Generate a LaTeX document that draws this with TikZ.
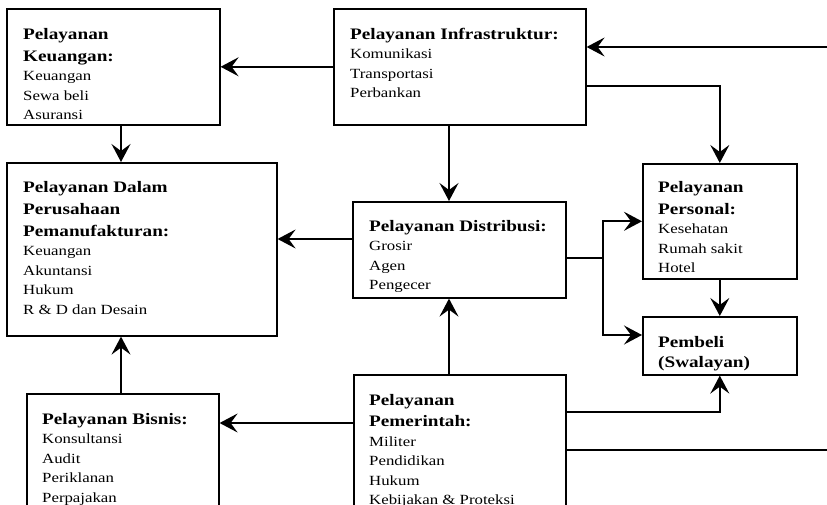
\documentclass[tikz,border=0pt]{standalone}
\usepackage{fontspec}
\setmainfont[FakeStretch=1.2]{Liberation Serif}
\usetikzlibrary{arrows.meta,calc}
\newcommand\boxhead[1]{{\fontsize{16}{19.5}\selectfont\bfseries #1}}
\tikzset{
  box/.style={draw=black, line width=1.6pt, fill=white, rectangle, anchor=north west, inner sep=0pt},
  txt/.style={anchor=north west, inner sep=0pt, align=left, font=\fontsize{14}{19.5}\selectfont},
  arr/.style={line width=1.8pt, -{Stealth[length=18pt,width=19pt,inset=7pt]}},
  ln/.style={line width=1.8pt}
}
\begin{document}
\begin{tikzpicture}[x=1pt,y=-1pt]
\useasboundingbox (0,0) rectangle (827,505);
\begin{scope}
\clip (0,0) rectangle (827,505);
\fill[white] (0,0) rectangle (827,505);

% service boxes
\node[box, minimum width=213, minimum height=116] (keu) at (6,8) {};
\node[box, minimum width=252, minimum height=116] (inf) at (333,8) {};
\node[box, minimum width=270, minimum height=173] (man) at (6,162) {};
\node[box, minimum width=213, minimum height=96]  (dis) at (352,201) {};
\node[box, minimum width=154, minimum height=115] (per) at (642,163) {};
\node[box, minimum width=154, minimum height=58]  (beli) at (642,316) {};
\node[box, minimum width=192, minimum height=140] (bis) at (26,393) {};
\node[box, minimum width=212, minimum height=160] (pem) at (353,374) {};

% box contents
\node[txt] (keut) at (23,28) {\boxhead{Pelayanan}\\[2.5pt]\boxhead{Keuangan:}\\Keuangan\\Sewa beli\\Asuransi};
\node[txt] (inft) at (350,28) {\boxhead{Pelayanan Infrastruktur:}\\Komunikasi\\Transportasi\\Perbankan};
\node[txt] (mant) at (23,181) {\boxhead{Pelayanan Dalam}\\[2.5pt]\boxhead{Perusahaan}\\[2.5pt]\boxhead{Pemanufakturan:}\\Keuangan\\Akuntansi\\Hukum\\R \& D dan Desain};
\node[txt] (dist) at (369,220) {\boxhead{Pelayanan Distribusi:}\\Grosir\\Agen\\Pengecer};
\node[txt] (pert) at (658,181) {\boxhead{Pelayanan}\\[2.5pt]\boxhead{Personal:}\\Kesehatan\\Rumah sakit\\Hotel};
\node[txt] (belit) at (658,336) {\boxhead{Pembeli}\\[1pt]\boxhead{(Swalayan)}};
\node[txt] (bist) at (42,413) {\boxhead{Pelayanan Bisnis:}\\Konsultansi\\Audit\\Periklanan\\Perpajakan};
\node[txt] (pemt) at (369,394) {\boxhead{Pelayanan}\\[2pt]\boxhead{Pemerintah:}\\Militer\\Pendidikan\\Hukum\\Kebijakan \& Proteksi};

% connector anchor points on the box edges
\coordinate (inR) at (827,47);
\coordinate (outR) at (827,450);
\coordinate (split) at (603,258);
\coordinate (infOut) at ($(inf.north east)+(0,78)$);
\coordinate (keuDown) at ($(keu.south west)+(115,0)$);
\coordinate (manTop) at ($(man.north west)+(115,0)$);
\coordinate (manBot) at ($(man.south west)+(115,0)$);
\coordinate (infDown) at ($(inf.south west)+(116,0)$);
\coordinate (disLeft) at ($(dis.north west)+(0,38)$);
\coordinate (beliLeft) at ($(beli.north west)+(0,19)$);
\coordinate (pemUp) at ($(pem.north west)+(96,0)$);
\coordinate (pemRight) at ($(pem.north east)+(0,38)$);
\coordinate (pemLeft) at ($(pem.north west)+(0,49)$);
\coordinate (bisUp) at ($(bis.north west)+(95,0)$);

% connectors
\draw[arr] (inf.west) -- (keu.east);
\draw[arr] (inR) -- (inR -| inf.east);
\draw[arr] (infOut) -| (per.north);
\draw[arr] (keuDown) -- (manTop);
\draw[arr] (infDown) -- (infDown |- dis.north);
\draw[arr] (disLeft) -- (disLeft -| man.east);
\draw[ln] (split -| dis.east) -- (split);
\draw[arr] (split) |- (per.west);
\draw[arr] (split) |- (beliLeft);
\draw[arr] (per.south) -- (beli.north);
\draw[arr] (pemUp) -- (pemUp |- dis.south);
\draw[arr] (pemRight) -| (beli.south);
\draw[ln] (outR -| pem.east) -- (outR);
\draw[arr] (pemLeft) -- (pemLeft -| bis.east);
\draw[arr] (bisUp) -- (manBot);
\end{scope}
\end{tikzpicture}
\end{document}
